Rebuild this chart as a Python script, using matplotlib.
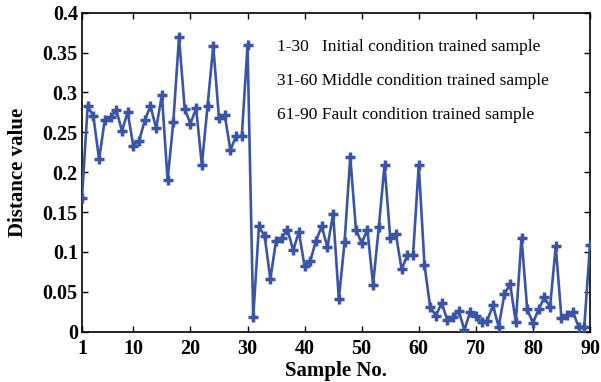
import matplotlib
matplotlib.use("Agg")
import matplotlib.pyplot as plt

# distance value per sample
sample_no = list(range(1, 91))
distance = [
    0.168, 0.283, 0.270, 0.216, 0.266, 0.269, 0.278, 0.252, 0.275, 0.233,
    0.239, 0.265, 0.283, 0.255, 0.297, 0.190, 0.263, 0.369, 0.279, 0.261,
    0.280, 0.209, 0.283, 0.358, 0.268, 0.272, 0.228, 0.245, 0.245, 0.359,
    0.018, 0.132, 0.120, 0.066, 0.114, 0.118, 0.128, 0.102, 0.125, 0.082,
    0.089, 0.114, 0.132, 0.106, 0.148, 0.041, 0.112, 0.219, 0.128, 0.111,
    0.128, 0.059, 0.131, 0.209, 0.118, 0.122, 0.078, 0.096, 0.096, 0.209,
    0.084, 0.031, 0.020, 0.036, 0.015, 0.018, 0.026, 0.002, 0.025, 0.020,
    0.012, 0.014, 0.033, 0.006, 0.047, 0.060, 0.012, 0.118, 0.028, 0.011,
    0.028, 0.043, 0.031, 0.107, 0.017, 0.021, 0.025, 0.006, 0.006, 0.109,
]
x_ticks = [1, 10, 20, 30, 40, 50, 60, 70, 80, 90]
y_ticks = [0, 0.05, 0.1, 0.15, 0.2, 0.25, 0.3, 0.35, 0.4]
y_tick_labels = ["0", "0.05", "0.1", "0.15", "0.2", "0.25", "0.3", "0.35", "0.4"]
notes = [
    "1-30   Initial condition trained sample",
    "31-60 Middle condition trained sample",
    "61-90 Fault condition trained sample",
]

LINE_C = "#3a54a6"
SERIF = ["Liberation Serif", "DejaVu Serif"]

fig = plt.figure(figsize=(6.01, 3.82), dpi=100)
ax = fig.add_axes([0.1364, 0.1317, 0.8453, 0.8351])

ax.plot(sample_no, distance, color=LINE_C, lw=1.9, marker="+",
        markersize=6.5, markeredgewidth=2.5, zorder=3)

ax.set_xlim(1, 90)
ax.set_ylim(0, 0.4)
ax.set_xticks(x_ticks)
ax.set_yticks(y_ticks)
ax.set_yticklabels(y_tick_labels)
ax.tick_params(direction="in", top=True, right=True, length=4, width=1,
               labelsize=14.5)
ax.tick_params(axis="y", pad=3)
ax.tick_params(axis="x", pad=5)
for lab in ax.get_xticklabels() + ax.get_yticklabels():
    lab.set_family(SERIF)
    lab.set_fontweight("bold")
for s in ax.spines.values():
    s.set_linewidth(1.2)

ax.set_xlabel("Sample No.", family=SERIF, fontweight="bold", fontsize=15)
ax.set_ylabel("Distance value", family=SERIF, fontweight="bold", fontsize=15)
ax.xaxis.set_label_coords(0.5, -0.091)
ax.yaxis.set_label_coords(-0.106, 0.5)

# annotation lines (figure pixel positions)
for i, t in enumerate(notes):
    fig.text(277 / 601, 1 - (47 + i * 34) / 382, t, family=SERIF,
             fontsize=12.5, va="center", ha="left")

fig.savefig("out.png", dpi=100)
